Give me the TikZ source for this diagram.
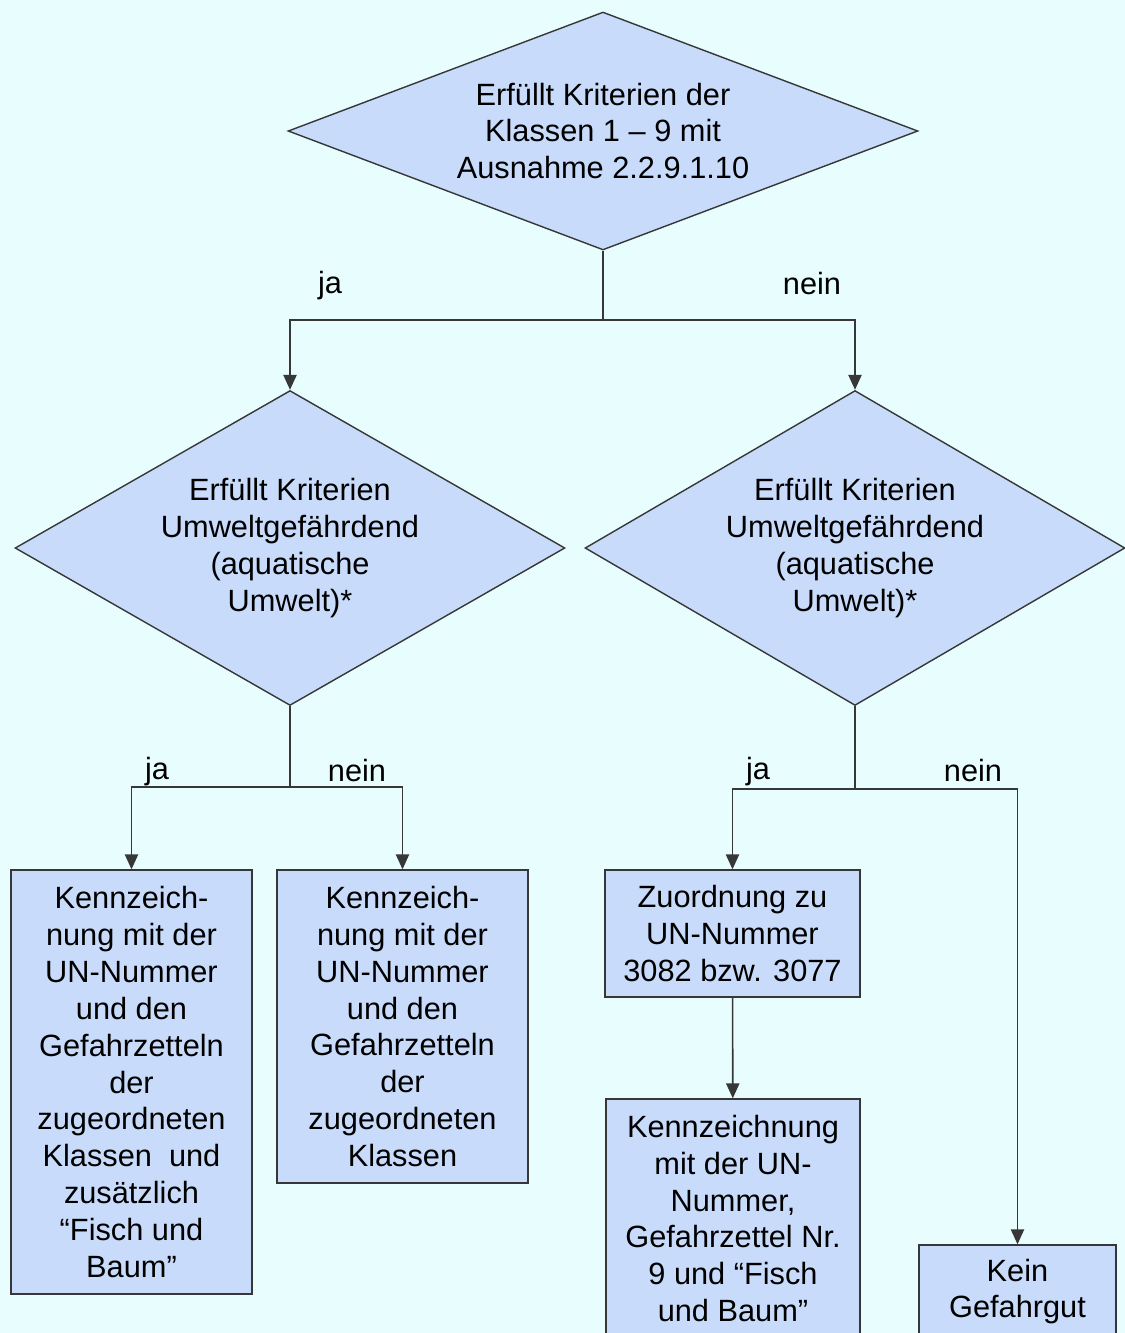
\documentclass[tikz,border=0pt]{standalone}
\usepackage{fontspec}
\setmainfont{Liberation Sans}
\usetikzlibrary{shapes.geometric,arrows.meta}
\definecolor{bgcyan}{RGB}{232,254,254}
\definecolor{boxblue}{RGB}{200,219,250}
\definecolor{linegray}{RGB}{55,55,55}
\tikzset{
  question/.style={diamond, draw=linegray, fill=boxblue, line width=0.8pt, inner sep=0pt, align=center},
  outcome/.style={rectangle, draw=linegray, fill=boxblue, line width=0.8pt, inner sep=0pt, align=center},
  flow/.style={draw=linegray, line width=0.9pt, -{Triangle[width=7.5pt,length=8.5pt]}},
  answer/.style={inner sep=0pt},
}
\begin{document}
\begin{tikzpicture}[x=0.02cm, y=-0.02cm, font=\fontsize{17.5pt}{21pt}\selectfont]
      \fill[bgcyan] (0,0) rectangle (1125,1333);
      \useasboundingbox (0,0) rectangle (1125,1333);
      \node[question, aspect=2.65, minimum width=12.6cm, minimum height=4.76cm] (klassen) at (603,131)
        {Erfüllt Kriterien der\\Klassen 1 – 9 mit\\Ausnahme 2.2.9.1.10};
      \node[question, aspect=1.75, minimum width=11cm, minimum height=6.3cm] (umweltja) at (290,548)
        {Erfüllt Kriterien\\Umweltgefährdend\\(aquatische\\Umwelt)*};
      \node[question, aspect=1.72, minimum width=10.8cm, minimum height=6.3cm] (umweltnein) at (855,548)
        {Erfüllt Kriterien\\Umweltgefährdend\\(aquatische\\Umwelt)*};
      \node[outcome, minimum width=4.82cm, minimum height=8.48cm] (fischbaum) at (131.5,1082)
        {Kennzeich-\\nung mit der\\UN-Nummer\\und den\\Gefahrzetteln\\der\\zugeordneten\\Klassen\ \ und\\zusätzlich\\“Fisch und\\Baum”};
      \node[outcome, minimum width=5.02cm, minimum height=6.26cm] (klassenzettel) at (402.5,1026.5)
        {Kennzeich-\\nung mit der\\UN-Nummer\\und den\\Gefahrzetteln\\der\\zugeordneten\\Klassen};
      \node[outcome, minimum width=5.1cm, minimum height=2.54cm] (zuordnung) at (732.5,933.5)
        {Zuordnung zu\\UN-Nummer\\3082 bzw. 3077};
      \node[outcome, minimum width=5.08cm, minimum height=4.78cm] (zettelneun) at (733,1218.5)
        {Kennzeichnung\\mit der UN-\\Nummer,\\Gefahrzettel Nr.\\9 und “Fisch\\und Baum”};
      \node[outcome, minimum width=3.94cm, minimum height=1.86cm] (kein) at (1017.5,1291.5)
        {Kein\\Gefahrgut};
      \coordinate (split0) at (603,320);
      \coordinate (split1) at (290,787);
      \coordinate (split2) at (855,789);
      \node[answer] (ja0) at (330,286) {ja};
      \node[answer] (nein0) at (812,284) {nein};
      \node[answer] (ja1) at (157,772) {ja};
      \node[answer] (nein1) at (357,770) {nein};
      \node[answer] (ja2) at (758,772) {ja};
      \node[answer] (nein2) at (973,770) {nein};
      \begin{scope}[flow]
        \draw (klassen.south) -- (split0) -| (umweltja.north);
        \draw (split0) -| (umweltnein.north);
        \draw (umweltja.south) -- (split1) -| (fischbaum.north);
        \draw (split1) -| (klassenzettel.north);
        \draw (umweltnein.south) -- (split2) -| (zuordnung.north);
        \draw (split2) -| (kein.north);
        \draw (zuordnung) -- (zettelneun);
      \end{scope}
    \end{tikzpicture}
\end{document}
